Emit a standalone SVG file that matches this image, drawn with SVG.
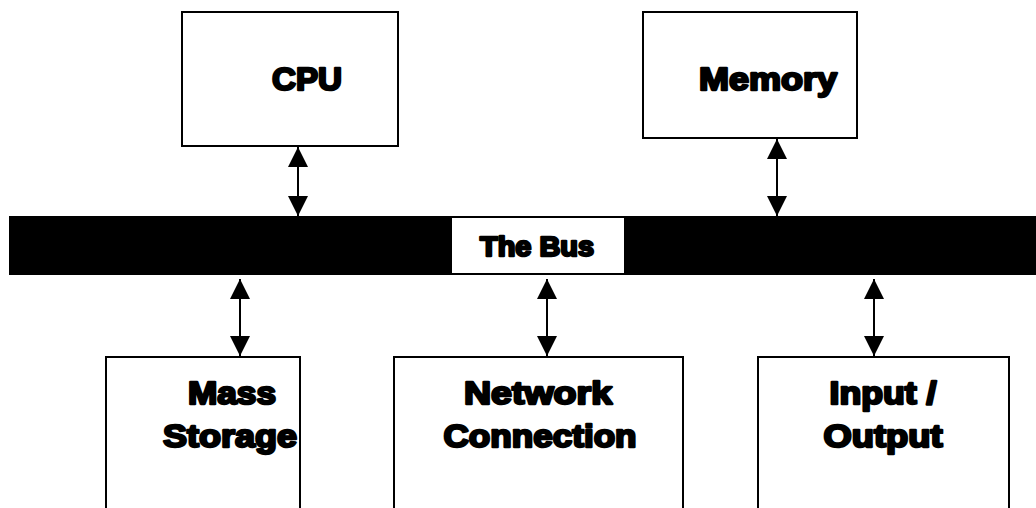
<svg xmlns="http://www.w3.org/2000/svg" width="1036" height="508" viewBox="0 0 1036 508">
<style>
.box{fill:#fff;stroke:#000;stroke-width:2}
.lbl{font-family:"Liberation Sans",Arial,sans-serif;font-weight:bold;fill:#000;stroke:#000;stroke-width:2.4;stroke-linejoin:round;text-anchor:middle}
.big{font-size:32px}
.small{font-size:27px}
.conn{stroke:#000;stroke-width:2;fill:none;marker-start:url(#ah);marker-end:url(#ah)}
</style>
<defs>
<marker id="ah" markerUnits="userSpaceOnUse" viewBox="0 0 20 20" refX="20" refY="10" markerWidth="20" markerHeight="20" orient="auto-start-reverse">
<path d="M0,0 L20,10 L0,20 Z" fill="#000"/>
</marker>
</defs>
<rect width="1036" height="508" fill="#fff"/>
<g id="bus">
<rect x="9" y="216" width="1030" height="59" fill="#000"/>
<rect x="452" y="218" width="172" height="55" fill="#fff"/>
<text class="lbl small" x="537" y="256" textLength="114" lengthAdjust="spacingAndGlyphs">The Bus</text>
</g>
<g id="cpu">
<rect class="box" x="182" y="12" width="216" height="134"/>
<text class="lbl big" x="307" y="90" textLength="70" lengthAdjust="spacingAndGlyphs">CPU</text>
</g>
<g id="memory">
<rect class="box" x="643" y="12" width="214" height="126"/>
<text class="lbl big" x="768" y="90" textLength="138" lengthAdjust="spacingAndGlyphs">Memory</text>
</g>
<g id="mass-storage">
<rect class="box" x="106" y="357" width="194" height="160"/>
<text class="lbl big" x="232" y="404" textLength="88" lengthAdjust="spacingAndGlyphs">Mass</text>
<text class="lbl big" x="230" y="447" textLength="134" lengthAdjust="spacingAndGlyphs">Storage</text>
</g>
<g id="network">
<rect class="box" x="394" y="357" width="289" height="160"/>
<text class="lbl big" x="538" y="404" textLength="148" lengthAdjust="spacingAndGlyphs">Network</text>
<text class="lbl big" x="540" y="447" textLength="193" lengthAdjust="spacingAndGlyphs">Connection</text>
</g>
<g id="io">
<rect class="box" x="758" y="357" width="251" height="160"/>
<text class="lbl big" x="883" y="404" textLength="107" lengthAdjust="spacingAndGlyphs">Input /</text>
<text class="lbl big" x="883" y="447" textLength="119" lengthAdjust="spacingAndGlyphs">Output</text>
</g>
<g id="connectors">
<line class="conn" x1="298" y1="147" x2="298" y2="216"/>
<line class="conn" x1="777" y1="139" x2="777" y2="216"/>
<line class="conn" x1="240" y1="279" x2="240" y2="356"/>
<line class="conn" x1="547" y1="279" x2="547" y2="356"/>
<line class="conn" x1="874" y1="279" x2="874" y2="356"/>
</g>
</svg>
